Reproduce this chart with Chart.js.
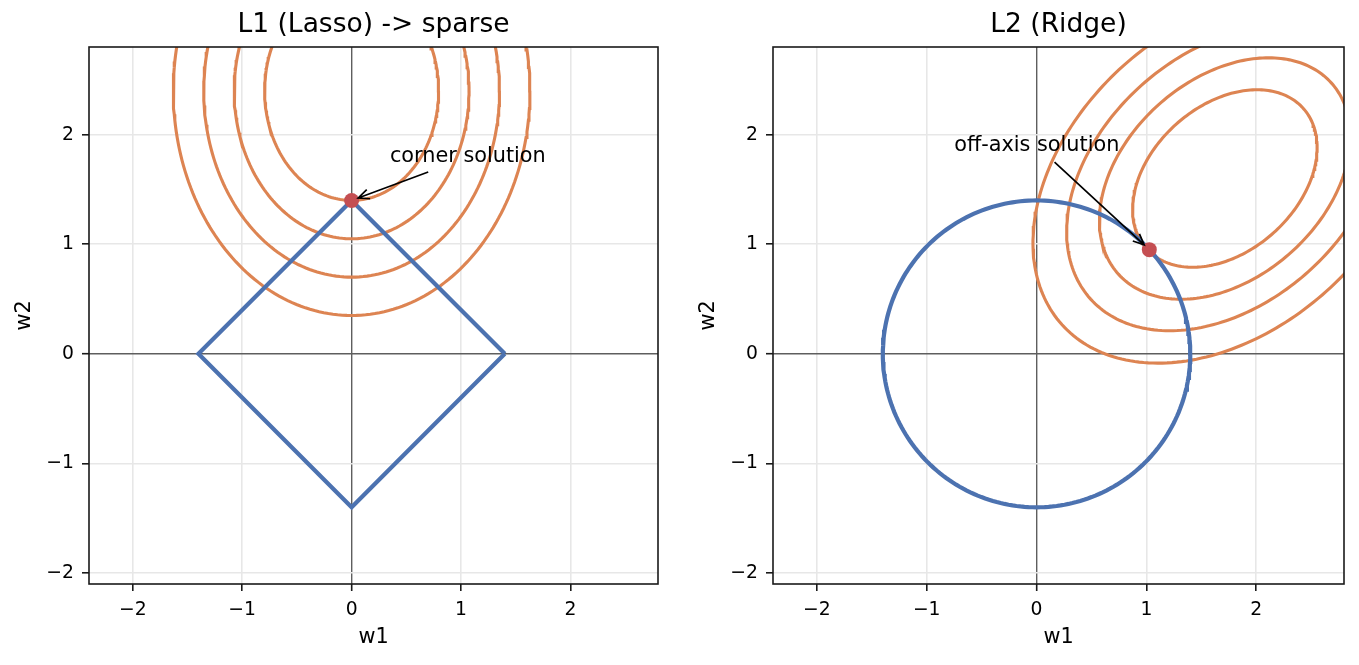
<!DOCTYPE html>
<html>
<head>
<meta charset="utf-8">
<script src="https://cdn.jsdelivr.net/npm/chart.js@4"></script>
<style>
  html, body { margin: 0; padding: 0; background: #fff; }
  #wrap { position: relative; width: 1359px; height: 665px; }
  canvas { position: absolute; top: 0; }
</style>
</head>
<body>
<div id="wrap">
  <canvas id="l1Chart" width="680" height="665" style="left:0px"></canvas>
  <canvas id="l2Chart" width="679" height="665" style="left:680px"></canvas>
</div>
<script>
// axes (same for both panels)
const xRange = [-2.4, 2.8];
const yRange = [-2.1, 2.8];
const xTicks = [-2, -1, 0, 1, 2];
const yTicks = [-2, -1, 0, 1, 2];

// L1 panel: diamond constraint + axis-aligned loss contours
const diamondX = [1.4, 0, -1.4, 0, 1.4];
const diamondY = [0, 1.4, 0, -1.4, 0];
const l1LossCenter = [0, 2.4];
const l1LossAxes = [0.795, 1.0];   // semi-axes of the innermost contour
const l1LossAngle = 0;             // degrees
const l1Levels = [1, 1.35, 1.7, 2.05];
const l1Solution = [0, 1.4];
const l1Note = 'corner solution';
const l1NoteAt = [0.35, 1.75];
const l1ArrowFrom = [0.70, 1.66];

// L2 panel: circle constraint + tilted loss contours
const ridgeRadius = 1.4;
const l2LossCenter = [1.715, 1.6];
const l2LossAxes = [0.959, 0.665];
const l2LossAngle = 42;
const l2Levels = [1, 1.36, 1.715, 2.08];
const l2Solution = [1.027, 0.951];
const l2Note = 'off-axis solution';
const l2NoteAt = [-0.75, 1.85];
const l2ArrowFrom = [0.164, 1.75];

const BLUE = '#4c72b0', ORANGE = '#dd8452', RED = '#c44e52';
const FONT = 'DejaVu Sans';

// outline of an ellipse (center, semi-axes, rotation) scaled by k
function ellipse(c, ax, angDeg, k) {
  const t = angDeg * Math.PI / 180, pts = [];
  for (let i = 0; i <= 240; i++) {
    const a = i / 240 * 2 * Math.PI;
    const u = k * ax[0] * Math.cos(a), v = k * ax[1] * Math.sin(a);
    pts.push({x: c[0] + u * Math.cos(t) - v * Math.sin(t),
              y: c[1] + u * Math.sin(t) + v * Math.cos(t)});
  }
  return pts;
}

function lineSet(data, color, width) {
  return {data, showLine: true, borderColor: color, borderWidth: width,
          pointRadius: 0, fill: false, tension: 0, clip: 0};
}

const fmt = v => v < 0 ? '\u2212' + (-v) : String(v);

const panelPlugin = {
  id: 'panel',
  afterDatasetsDraw(chart, args, opts) {
    const {ctx, scales: {x, y}} = chart;
    ctx.save();
    ctx.fillStyle = '#000';
    ctx.font = '20.8px "' + FONT + '"';
    ctx.textAlign = 'left';
    ctx.textBaseline = 'alphabetic';
    ctx.fillText(opts.text, x.getPixelForValue(opts.at[0]), y.getPixelForValue(opts.at[1]));
    // arrow '->'
    const x0 = x.getPixelForValue(opts.from[0]), y0 = y.getPixelForValue(opts.from[1]);
    const tx = x.getPixelForValue(opts.to[0]), ty = y.getPixelForValue(opts.to[1]);
    const ang = Math.atan2(ty - y0, tx - x0);
    const x1 = tx - 7 * Math.cos(ang), y1 = ty - 7 * Math.sin(ang);
    ctx.strokeStyle = '#000';
    ctx.lineWidth = 1.7;
    ctx.beginPath();
    ctx.moveTo(x0, y0);
    ctx.lineTo(x1, y1);
    ctx.moveTo(x1 - 12 * Math.cos(ang - 0.42), y1 - 12 * Math.sin(ang - 0.42));
    ctx.lineTo(x1, y1);
    ctx.lineTo(x1 - 12 * Math.cos(ang + 0.42), y1 - 12 * Math.sin(ang + 0.42));
    ctx.stroke();
    ctx.restore();
  },
  afterDraw(chart) {
    const {ctx, chartArea: a} = chart;
    ctx.save();
    ctx.strokeStyle = '#1a1a1a';
    ctx.lineWidth = 1.6;
    ctx.strokeRect(a.left, a.top, a.right - a.left, a.bottom - a.top);
    ctx.restore();
  }
};

function makePanel(id, title, yWidth, padRight, datasets, note) {
  const gridColor = c => c.tick && c.tick.value === 0 ? '#5e5e5e' : '#e7e7e7';
  const gridWidth = c => c.tick && c.tick.value === 0 ? 1.4 : 1.6;
  const tickFont = {family: FONT, size: 18.75};
  const titleFont = {family: FONT, size: 20.8};
  return new Chart(document.getElementById(id), {
    type: 'scatter',
    data: {datasets},
    plugins: [panelPlugin],
    options: {
      responsive: false,
      animation: false,
      events: [],
      layout: {padding: {left: 0, right: padRight, top: 0, bottom: 0}},
      plugins: {
        legend: {display: false},
        tooltip: {enabled: false},
        title: {display: true, text: title, fullSize: false, color: '#000',
                font: {family: FONT, size: 26.5, weight: 'normal'},
                padding: {top: 9.5, bottom: 5.7}},
        panel: note
      },
      scales: {
        x: {
          type: 'linear', min: xRange[0], max: xRange[1],
          afterBuildTicks: s => { s.ticks = xTicks.map(v => ({value: v})); },
          afterFit: s => { s.height = 81; },
          ticks: {callback: fmt, color: '#000', font: tickFont, padding: 8, maxRotation: 0},
          grid: {color: gridColor, lineWidth: gridWidth, tickColor: '#1a1a1a',
                 tickWidth: 1.6, tickLength: 7},
          border: {display: false},
          title: {display: true, text: 'w1', color: '#000', font: titleFont,
                  padding: {top: 0, bottom: 15}}
        },
        y: {
          type: 'linear', min: yRange[0], max: yRange[1],
          afterBuildTicks: s => { s.ticks = yTicks.map(v => ({value: v})); },
          afterFit: s => { s.width = yWidth; },
          ticks: {callback: fmt, color: '#000', font: tickFont, padding: 8},
          grid: {color: gridColor, lineWidth: gridWidth, tickColor: '#1a1a1a',
                 tickWidth: 1.6, tickLength: 7},
          border: {display: false},
          title: {display: true, text: 'w2', color: '#000', font: titleFont,
                  padding: {top: yWidth - 64 - 12.5, bottom: 0}}
        }
      }
    }
  });
}

// left: L1
const l1Sets = [
  {data: [{x: l1Solution[0], y: l1Solution[1]}], pointRadius: 7.5,
   backgroundColor: RED, borderWidth: 0, clip: 0},
  lineSet(diamondX.map((v, i) => ({x: v, y: diamondY[i]})), BLUE, 4.2)
].concat(l1Levels.map(k => lineSet(ellipse(l1LossCenter, l1LossAxes, l1LossAngle, k), ORANGE, 3.1)));

makePanel('l1Chart', 'L1 (Lasso) -> sparse', 89, 22, l1Sets,
  {text: l1Note, at: l1NoteAt, from: l1ArrowFrom, to: l1Solution});

// right: L2
const l2Sets = [
  {data: [{x: l2Solution[0], y: l2Solution[1]}], pointRadius: 7.5,
   backgroundColor: RED, borderWidth: 0, clip: 0},
  lineSet(ellipse([0, 0], [ridgeRadius, ridgeRadius], 0, 1), BLUE, 4.2)
].concat(l2Levels.map(k => lineSet(ellipse(l2LossCenter, l2LossAxes, l2LossAngle, k), ORANGE, 3.1)));

makePanel('l2Chart', 'L2 (Ridge)', 93, 15, l2Sets,
  {text: l2Note, at: l2NoteAt, from: l2ArrowFrom, to: l2Solution});
</script>
</body>
</html>
